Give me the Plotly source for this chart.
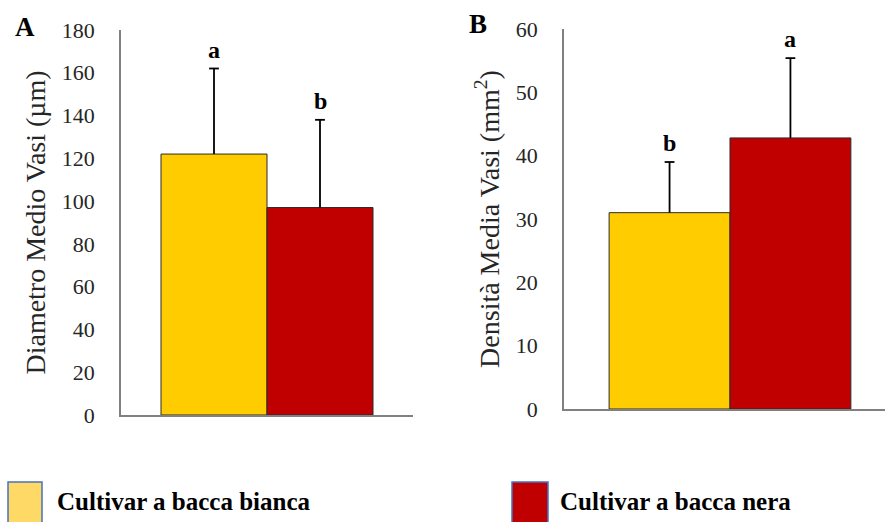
import plotly.graph_objects as go
from plotly.subplots import make_subplots

# Data
cultivars = ["Cultivar a bacca bianca", "Cultivar a bacca nera"]
bar_colors = ["#FFCC00", "#C00000"]
swatch_colors = ["#FFD966", "#C00000"]

diametro = [122, 97]          # µm
diametro_err = [40, 41]
diametro_letters = ["a", "b"]

densita = [31, 42.8]          # vasi / mm²
densita_err = [8, 12.6]
densita_letters = ["b", "a"]

diametro_ticks = list(range(0, 181, 20))
densita_ticks = list(range(0, 61, 10))

W, H = 885, 522
SERIF = "Liberation Serif, Times New Roman, serif"
BARGAP = 0.274

fig = make_subplots(rows=1, cols=2)

panels = [
    (1, diametro, diametro_err, diametro_letters),
    (2, densita, densita_err, densita_letters),
]
for col, vals, errs, letters in panels:
    suffix = "" if col == 1 else str(col)
    for i, name in enumerate(cultivars):
        offset = (i - 0.5) * (1 - BARGAP) / 2
        # bar with an upward-only whisker (no cross-bars; the top cap is added below)
        fig.add_trace(
            go.Bar(
                x=[0], y=[vals[i]], name=name, showlegend=False,
                marker=dict(color=bar_colors[i], line=dict(color="#2b2b2b", width=1)),
                error_y=dict(type="data", symmetric=False, array=[errs[i]],
                             arrayminus=[0], color="black", thickness=1.8, width=0),
            ),
            row=1, col=col,
        )
        # cap at the top of the whisker
        fig.add_trace(
            go.Scatter(
                x=[offset], y=[vals[i] + errs[i]], mode="markers", showlegend=False,
                hoverinfo="skip",
                marker=dict(symbol="line-ew", size=7, color="black",
                            line=dict(color="black", width=1.8)),
            ),
            row=1, col=col,
        )
        # significance letter above each whisker
        fig.add_annotation(
            x=offset, y=vals[i] + errs[i], xref=f"x{suffix}", yref=f"y{suffix}",
            text=f"<b>{letters[i]}</b>", showarrow=False,
            yanchor="middle", yshift=19,
            font=dict(family=SERIF, size=24, color="black"),
        )

axis_common = dict(showline=True, linecolor="#808080", linewidth=1.5,
                   showgrid=False, zeroline=False, automargin=False)

fig.update_xaxes(showticklabels=False, ticks="", **axis_common)
fig.update_yaxes(ticks="", ticklabelstandoff=20,
                 tickfont=dict(family=SERIF, size=22, color="#262626"),
                 **axis_common)

fig.update_layout(
    xaxis=dict(domain=[121 / W, 413 / W], range=[-0.5, 0.5]),
    xaxis2=dict(domain=[564 / W, 1.0], range=[-0.4985, 0.4655]),
    yaxis=dict(domain=[1 - 415 / H, 1 - 30 / H], range=[0, 180],
               tickvals=diametro_ticks,
               title=dict(text="Diametro Medio Vasi (µm)", standoff=8,
                          font=dict(family=SERIF, size=28, color="#262626"))),
    yaxis2=dict(domain=[1 - 409 / H, 1 - 29 / H], range=[0, 60],
                tickvals=densita_ticks,
                title=dict(text="Densità Media Vasi (mm<sup>2</sup>)", standoff=8,
                           font=dict(family=SERIF, size=28, color="#262626"))),
    barmode="group", bargap=BARGAP, bargroupgap=0,
    width=W, height=H, margin=dict(l=0, r=0, t=0, b=0, autoexpand=False),
    paper_bgcolor="white", plot_bgcolor="white",
)

# Panel labels
for txt, px, py in [("A", 25, 27), ("B", 478, 24)]:
    fig.add_annotation(x=px / W, y=1 - py / H, xref="paper", yref="paper",
                       text=f"<b>{txt}</b>", showarrow=False,
                       xanchor="center", yanchor="middle",
                       font=dict(family=SERIF, size=27, color="black"))

# Legend drawn as swatches plus labels along the bottom
legend_x = [(8, 42, 55), (512, 548, 558)]
for (x0, x1, tx), name, c in zip(legend_x, cultivars, swatch_colors):
    fig.add_shape(type="rect", xref="paper", yref="paper",
                  x0=x0 / W, x1=x1 / W, y0=1 - 523 / H, y1=1 - 482 / H,
                  fillcolor=c, line=dict(color="#4472C4", width=1.5))
    fig.add_annotation(x=tx / W, y=1 - 501 / H, xref="paper", yref="paper",
                       text=f"<b>{name}</b>", showarrow=False,
                       xanchor="left", yanchor="middle",
                       font=dict(family=SERIF, size=25, color="black"))

fig.write_html("out.html")
